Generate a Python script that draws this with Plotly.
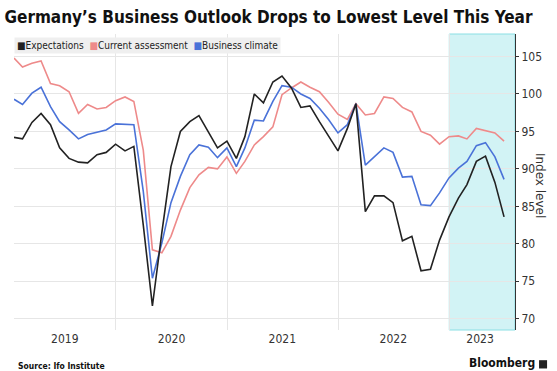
import calendar
import plotly.graph_objects as go

# ---- data (monthly, Jan 2019 - Jun 2023) ----
months = [(2019 + i // 12, i % 12 + 1) for i in range(54)]
dates = [f"{y}-{m:02d}-{calendar.monthrange(y, m)[1]:02d}" for y, m in months]

expectations = [94.2, 94.0, 96.2, 97.4, 95.9, 92.8, 91.4, 90.9, 90.8, 91.9, 92.2, 93.3,
                92.4, 93.0, 82.5, 71.7, 81.5, 90.3, 95.0, 96.3, 97.1, 95.0, 92.8, 93.7,
                91.4, 94.3, 100.0, 98.8, 101.6, 102.4, 100.8, 98.2, 98.4, 96.3, 94.3, 92.4,
                95.4, 98.7, 84.3, 86.4, 86.4, 85.5, 80.4, 81.0, 76.4, 76.6, 80.5, 83.6,
                86.1, 87.9, 91.0, 91.7, 88.2, 83.6]
current_assessment = [104.8, 103.6, 104.1, 104.4, 101.4, 101.1, 100.3, 97.4, 98.6, 98.0, 98.2, 99.1,
                      99.6, 99.0, 92.5, 79.2, 78.8, 81.0, 84.5, 87.5, 89.2, 90.2, 90.0, 91.6,
                      89.4, 91.0, 93.2, 94.3, 95.6, 99.9, 100.8, 101.6, 100.9, 100.3, 98.9, 97.3,
                      96.6, 98.7, 97.2, 97.4, 99.6, 99.4, 98.2, 97.6, 95.0, 94.5, 93.3, 94.3,
                      94.4, 94.0, 95.4, 95.1, 94.8, 93.7]
business_climate = [99.3, 98.6, 100.1, 100.9, 98.3, 96.3, 95.2, 94.0, 94.6, 94.9, 95.2, 96.0,
                    96.0, 95.9, 87.0, 75.4, 80.1, 85.5, 89.0, 91.9, 93.2, 92.9, 91.5, 92.8,
                    90.3, 92.8, 96.5, 96.4, 99.0, 101.1, 100.9, 100.0, 99.4, 98.1, 96.6, 94.8,
                    95.9, 98.7, 90.5, 91.7, 92.8, 92.2, 88.9, 89.0, 85.2, 85.1, 86.8, 88.8,
                    90.1, 91.0, 93.1, 93.5, 91.6, 88.6]

year_labels = ["2019", "2020", "2021", "2022", "2023"]
year_label_pos = ["2019-07-17", "2020-07-02", "2021-07-01", "2022-07-01", "2023-04-12"]
year_starts = ["2020-01-01", "2021-01-01", "2022-01-01", "2023-01-01"]
y_ticks = [70, 75, 80, 85, 90, 95, 100, 105]

x_range = ["2019-01-31", "2023-08-05"]
shade_start = "2023-01-01"

RED = "#ee8a8a"
BLUE = "#4a72d8"
BLACK = "#222222"
NARROW = "Liberation Sans Narrow, DejaVu Sans Condensed, sans-serif"

fig = go.Figure()
fig.add_trace(go.Scatter(x=dates, y=current_assessment, mode="lines",
                         line=dict(color=RED, width=1.6), name="Current assessment"))
fig.add_trace(go.Scatter(x=dates, y=business_climate, mode="lines",
                         line=dict(color=BLUE, width=1.6), name="Business climate"))
fig.add_trace(go.Scatter(x=dates, y=expectations, mode="lines",
                         line=dict(color=BLACK, width=1.6), name="Expectations"))

fig.add_shape(type="rect", xref="x", yref="paper", x0=shade_start, x1=x_range[1],
              y0=0, y1=1, fillcolor="#d2f3f5", line=dict(color="#8adfe4", width=1),
              layer="below")
# small Bloomberg logo box
fig.add_shape(type="rect", xref="paper", yref="paper", x0=1.048, x1=1.064,
              y0=-0.13, y1=-0.102, fillcolor="#222", line=dict(width=0))

fig.update_layout(
    width=557, height=371,
    margin=dict(l=14, r=42, t=34, b=41),
    paper_bgcolor="white", plot_bgcolor="white",
    showlegend=False,
    title=dict(text="<b>Germany’s Business Outlook Drops to Lowest Level This Year</b>",
               x=0.008, xanchor="left", y=0.955, yanchor="middle",
               font=dict(family="DejaVu Sans Condensed, sans-serif", size=17, color="#111")),
    xaxis=dict(type="date", range=x_range, tickvals=year_starts, showticklabels=False,
               showgrid=True, gridcolor="#e6e6e6", gridwidth=1, zeroline=False,
               showline=False, ticks=""),
    xaxis2=dict(type="date", range=x_range, overlaying="x", side="bottom",
                tickvals=year_label_pos, ticktext=year_labels, showgrid=False,
                showline=False, ticks="", zeroline=False,
                tickfont=dict(family=NARROW, size=12, color="#333")),
    yaxis=dict(side="right", range=[68.5, 108], tickvals=y_ticks,
               showgrid=True, gridcolor="#e6e6e6", zeroline=False,
               showline=True, linecolor="#333", linewidth=1,
               ticks="outside", ticklen=3, tickcolor="#333",
               tickfont=dict(family=NARROW, size=12, color="#333")),
)
# dummy invisible trace for xaxis2 so it renders
fig.add_trace(go.Scatter(x=[dates[0]], y=[None], xaxis="x2", showlegend=False,
                         hoverinfo="skip"))

legend_text = (f"<span style='color:{BLACK}'>■</span>Expectations  "
               f"<span style='color:{RED}'>■</span>Current assessment  "
               f"<span style='color:{BLUE}'>■</span>Business climate")
fig.add_annotation(text=legend_text, xref="paper", yref="paper", x=0, y=0.99,
                   xanchor="left", yanchor="top", showarrow=False, align="left",
                   bgcolor="#efefef", borderpad=2,
                   font=dict(family=NARROW, size=10, color="#222"))
fig.add_annotation(text="Index level", xref="paper", yref="paper", x=1.05, y=0.49,
                   textangle=90, showarrow=False, xanchor="center", yanchor="middle",
                   font=dict(family="DejaVu Sans, sans-serif", size=12, color="#333"))
fig.add_annotation(text="<b>Source: Ifo Institute</b>", xref="paper", yref="paper",
                   x=0.004, y=-0.122, xanchor="left", yanchor="middle", showarrow=False,
                   font=dict(family="DejaVu Sans Condensed, sans-serif", size=8.5, color="#111"))
fig.add_annotation(text="<b>Bloomberg</b>", xref="paper", yref="paper",
                   x=1.044, y=-0.112, xanchor="right", yanchor="middle", showarrow=False,
                   font=dict(family="DejaVu Sans Condensed, sans-serif", size=12, color="#111"))

fig.write_html("out.html")
